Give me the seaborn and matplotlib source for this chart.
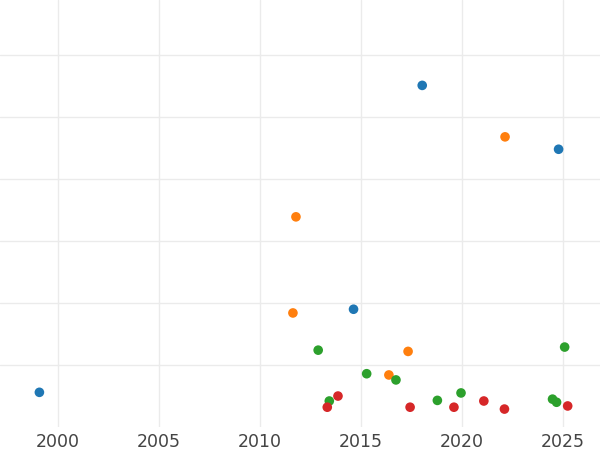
import matplotlib
matplotlib.use("Agg")
import matplotlib.pyplot as plt
import seaborn as sns
import pandas as pd

# Data
blue_x = [1999.1, 2018.05, 2024.8, 2014.65]
blue_y = [0.56, 5.51, 4.48, 1.90]
orange_x = [2011.8, 2022.15, 2011.65, 2017.35, 2016.4]
orange_y = [3.39, 4.68, 1.84, 1.22, 0.84]
green_x = [2012.9, 2015.3, 2016.75, 2013.45, 2018.8, 2019.97, 2025.1, 2024.5, 2024.7]
green_y = [1.24, 0.86, 0.76, 0.42, 0.43, 0.55, 1.29, 0.45, 0.40]
red_x = [2013.35, 2013.88, 2017.45, 2019.62, 2021.1, 2022.12, 2025.25]
red_y = [0.32, 0.50, 0.32, 0.32, 0.42, 0.29, 0.34]
groups = ["A", "B", "C", "D"]
xticks = [2000, 2005, 2010, 2015, 2020, 2025]

rows = []
for g, xs, ys in zip(groups, [blue_x, orange_x, green_x, red_x], [blue_y, orange_y, green_y, red_y]):
    for x, y in zip(xs, ys):
        rows.append({"year": x, "value": y, "group": g})
df = pd.DataFrame(rows)

sns.set_theme(style="whitegrid")
fig = plt.figure(figsize=(6, 4.5), dpi=100)
ax = fig.add_axes([0, 0.051, 1, 0.949])
sns.scatterplot(data=df, x="year", y="value", hue="group", hue_order=groups,
                palette=sns.color_palette("tab10", 4), s=48, linewidth=0,
                legend=False, ax=ax)
ax.set_xlim(1997.15, 2026.85)
ax.set_ylim(0, 6.887)
ax.set_xticks(xticks)
ax.set_xticklabels([str(t) for t in xticks])
ax.set_yticks([1, 2, 3, 4, 5, 6])
ax.set_yticklabels([])
ax.grid(True, color="#ebebeb", linewidth=1)
ax.tick_params(axis="x", labelsize=12.5, labelcolor="#444444", length=0, pad=4)
ax.tick_params(axis="y", length=0)
ax.set_xlabel("")
ax.set_ylabel("")
for sp in ax.spines.values():
    sp.set_visible(False)
ax.set_facecolor("white")
fig.savefig("out.png", dpi=100)
